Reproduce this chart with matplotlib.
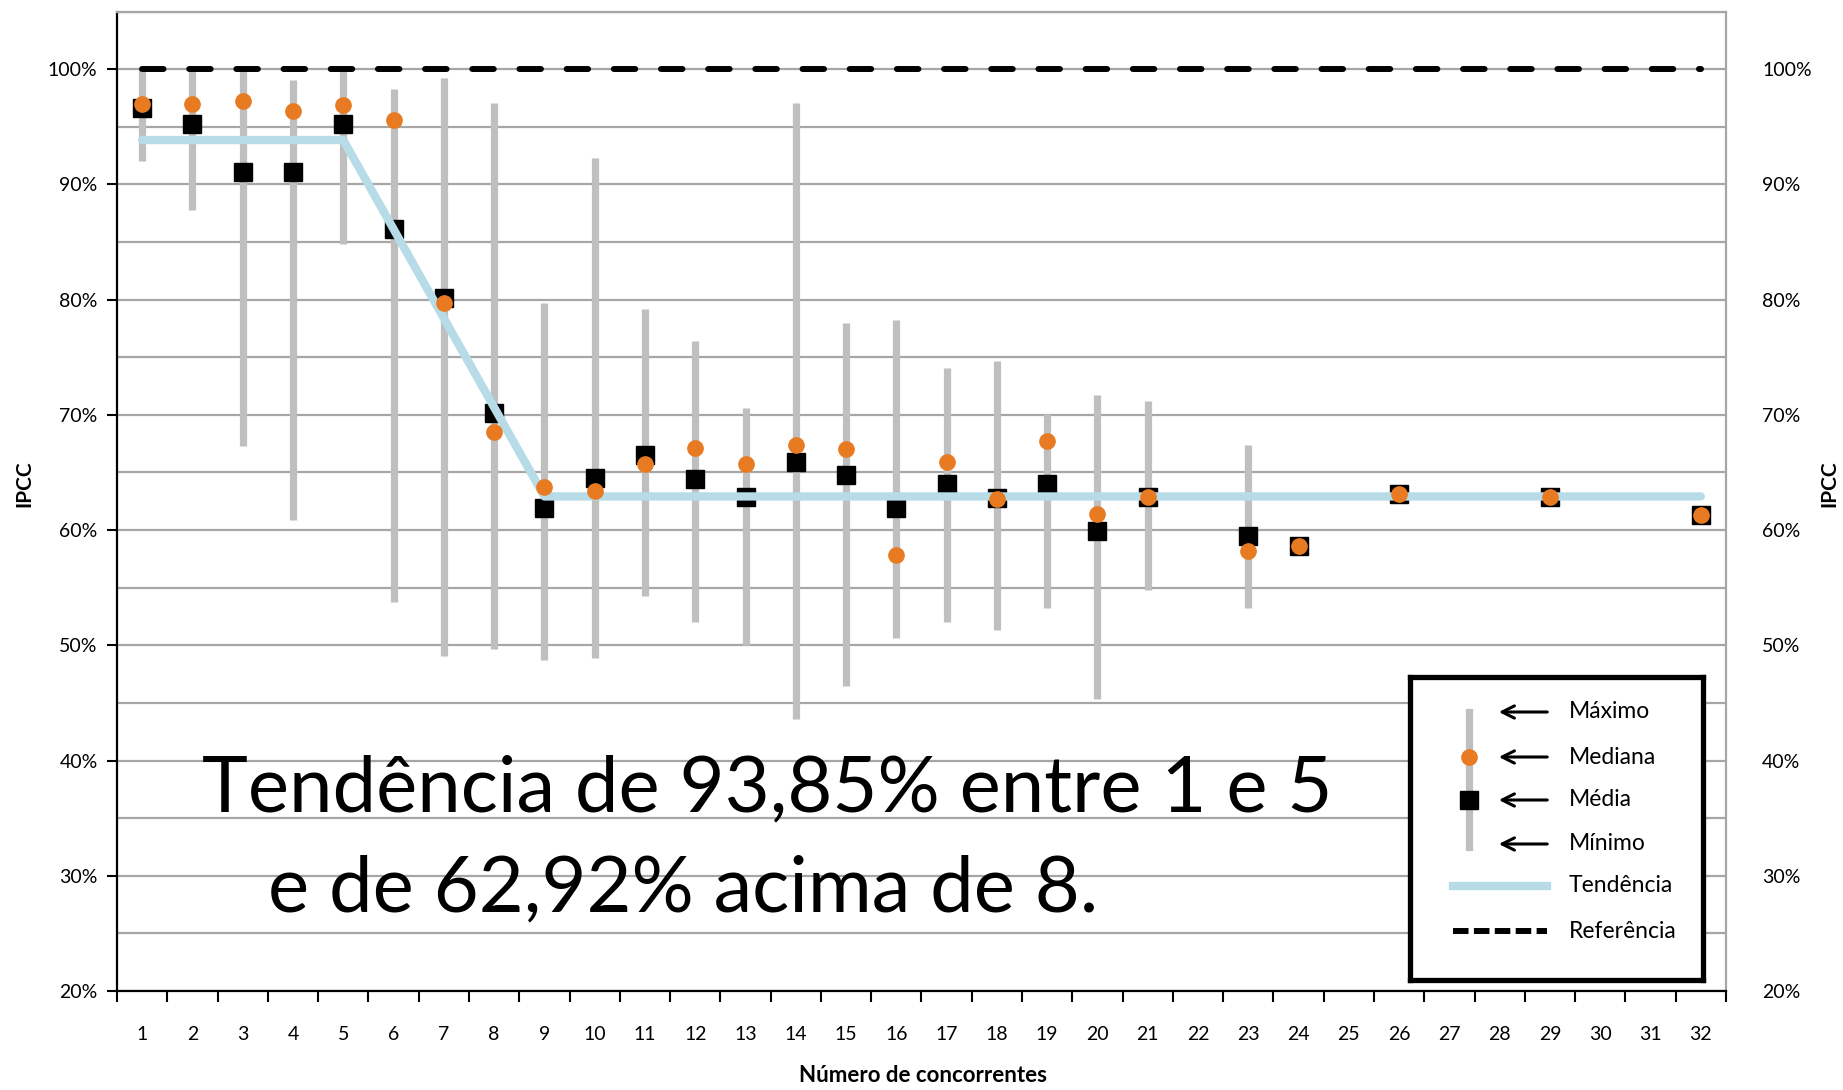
import matplotlib
matplotlib.use('Agg')
import matplotlib.pyplot as plt
from matplotlib.ticker import FixedLocator, FuncFormatter

plt.rcParams['font.family'] = ['Lato', 'DejaVu Sans']

# numero de concorrentes com dados
cats = [1, 2, 3, 4, 5, 6, 7, 8, 9, 10, 11, 12, 13, 14, 15, 16, 17, 18, 19, 20, 21, 23, 24, 26, 29, 32]

media   = [96.6, 95.2, 91.1, 91.1, 95.2, 86.1, 80.1, 70.2, 61.9, 64.5, 66.5, 64.4, 62.9,
           65.9, 64.8, 61.9, 64.0, 62.8, 64.0, 59.9, 62.9, 59.5, 58.6, 63.1, 62.9, 61.3]
mediana = [97.0, 97.0, 97.2, 96.4, 96.9, 95.6, 79.7, 68.5, 63.7, 63.4, 65.7, 67.1, 65.7,
           67.4, 67.0, 57.8, 65.9, 62.7, 67.7, 61.4, 62.9, 58.2, 58.6, 63.1, 62.9, 61.3]
maximo  = [100.0, 100.0, 100.0, 99.1, 100.0, 98.3, 99.2, 97.1, 79.7, 92.3, 79.2, 76.4, 70.6,
           97.1, 78.0, 78.2, 74.1, 74.7, 70.1, 71.7, 71.2, 67.4, 58.6, 63.1, 62.9, 61.3]
minimo  = [92.0, 87.8, 67.3, 60.9, 84.8, 53.8, 49.1, 49.7, 48.7, 48.9, 54.3, 52.0, 50.0,
           43.6, 46.5, 50.6, 52.0, 51.3, 53.2, 45.3, 54.8, 53.2, 58.6, 63.1, 62.9, 61.3]

# tendencia: 93,85% entre 1 e 5, 62,92% acima de 8
trend_x = [1, 5, 9, 32]
trend_y = [93.85, 93.85, 62.92, 62.92]

ref_x = [1, 32]
ref_y = [100, 100]

n_cats = 32
y_labels = [20, 30, 40, 50, 60, 70, 80, 90, 100]

GRAY = '#BFBFBF'
ORANGE = '#E87A22'
BLUE = '#B7DCE8'
GRID = '#A6A6A6'

fig = plt.figure(figsize=(18.43, 10.90), dpi=100)
ax = fig.add_axes([0.0635, 0.0908, 0.873, 0.8986])

ax.vlines(cats, minimo, maximo, color=GRAY, lw=5.2, zorder=2)
ax.plot(ref_x, ref_y, color='black', lw=4.3, dashes=(3.6, 4.3),
        dash_capstyle='round', zorder=3)
ax.plot(cats, media, 's', color='black', ms=12.5, zorder=4, ls='none')
ax.plot(trend_x, trend_y, color=BLUE, lw=6, solid_capstyle='round',
        solid_joinstyle='round', zorder=5)
ax.plot(cats, mediana, 'o', color=ORANGE, ms=11, zorder=6, ls='none')

ax.set_xlim(0.5, n_cats + 0.5)
ax.set_ylim(20, 105)

# grade a cada 5%
ax.yaxis.set_major_locator(FixedLocator(y_labels))
ax.yaxis.set_minor_locator(FixedLocator(list(range(25, 106, 5))))
ax.yaxis.set_major_formatter(FuncFormatter(lambda v, p: '%d%%' % v))
ax.grid(True, which='minor', axis='y', color=GRID, lw=1.6, zorder=1)
ax.grid(True, which='major', axis='y', color=GRID, lw=1.6, zorder=1)
ax.set_axisbelow(True)
ax.tick_params(axis='y', which='major', length=7, width=1.5, direction='out',
               labelsize=14, pad=7)
ax.tick_params(axis='y', which='minor', length=0)

ax.xaxis.set_major_locator(FixedLocator(list(range(1, n_cats + 1))))
ax.xaxis.set_minor_locator(FixedLocator([i + 0.5 for i in range(0, n_cats + 1)]))
ax.tick_params(axis='x', which='major', length=0, labelsize=14, pad=25)
ax.tick_params(axis='x', which='minor', length=8, width=1.5, direction='out')

ax.spines['left'].set_color('black')
ax.spines['left'].set_linewidth(1.6)
ax.spines['bottom'].set_color('black')
ax.spines['bottom'].set_linewidth(1.6)
ax.spines['right'].set_color(GRID)
ax.spines['right'].set_linewidth(1.6)
ax.spines['top'].set_color(GRID)
ax.spines['top'].set_linewidth(1.6)

# eixo da direita
ax2 = ax.twinx()
ax2.set_ylim(ax.get_ylim())
ax2.yaxis.set_major_locator(FixedLocator(y_labels))
ax2.yaxis.set_major_formatter(FuncFormatter(lambda v, p: '%d%%' % v))
ax2.tick_params(axis='y', length=0, labelsize=14, pad=26)
for s in ax2.spines.values():
    s.set_visible(False)

# titulos dos eixos
fig.text(24 / 1843, 1 - 484 / 1090, 'IPCC', fontsize=15, fontweight='bold',
         rotation=90, ha='center', va='center')
fig.text(1829 / 1843, 1 - 484 / 1090, 'IPCC', fontsize=15, fontweight='bold',
         rotation=90, ha='center', va='center')
fig.text(923 / 1843, 1 - 1076 / 1090, 'Número de concorrentes', fontsize=16,
         fontweight='bold', ha='center', va='center')

# texto grande
fig.text(202 / 1843, 1 - 811 / 1090, 'Tendência de 93,85% entre 1 e 5',
         fontsize=56, ha='left', va='baseline')
fig.text(268 / 1843, 1 - 911 / 1090, 'e de 62,92% acima de 8.',
         fontsize=56, ha='left', va='baseline')

# legenda feita a mao (caixa em pixels)
lg = fig.add_axes([1410 / 1843, 1 - 980 / 1090, 293 / 1843, 303 / 1090], zorder=10)
lg.set_xlim(0, 293)
lg.set_ylim(303, 0)
lg.set_xticks([])
lg.set_yticks([])
lg.set_facecolor('white')
for s in lg.spines.values():
    s.set_linewidth(3.8)
    s.set_color('black')

lg.plot([59, 59], [35, 170], color=GRAY, lw=5.2)
lg.plot([59], [80], 'o', color=ORANGE, ms=11)
lg.plot([59], [123], 's', color='black', ms=12.5)
rows = [(35, 'Máximo'), (80, 'Mediana'), (123, 'Média'), (167, 'Mínimo')]
for yy, lab in rows:
    lg.annotate('', xy=(86, yy), xytext=(140, yy),
                arrowprops=dict(arrowstyle='->', color='black', lw=2.2,
                                mutation_scale=22))
    lg.text(159, yy, lab, fontsize=16.5, va='center', ha='left')
lg.plot([43, 137], [209, 209], color=BLUE, lw=6)
lg.text(159, 209, 'Tendência', fontsize=16.5, va='center', ha='left')
lg.plot([43, 137], [254, 254], color='black', lw=4.3, dashes=(2.6, 0.9),
        dash_capstyle='butt')
lg.text(159, 254, 'Referência', fontsize=16.5, va='center', ha='left')

plt.savefig('out.png', dpi=100)
